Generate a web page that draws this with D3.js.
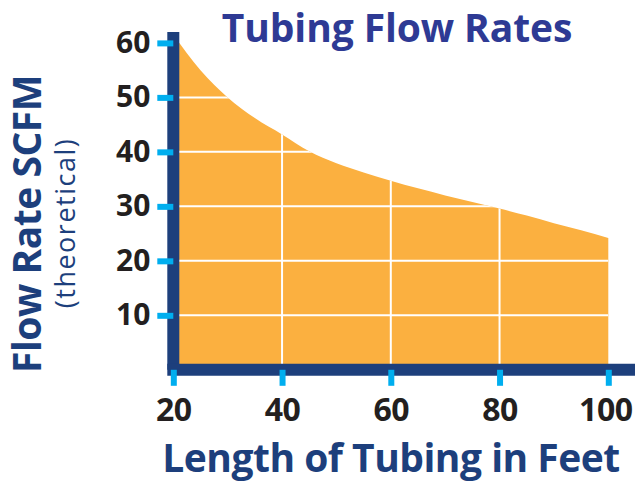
<!DOCTYPE html>
<html lang="en">
<head>
  <meta charset="UTF-8">
  <title>Tubing Flow Rates</title>
  <script src="https://d3js.org/d3.v7.min.js"></script>
  <style>
    body { margin: 0; background: #fff; }
    svg { display: block; font-family: "Open Sans", sans-serif; }
    .tick text { font-weight: 700; fill: #231F20; }
  </style>
</head>
<body>
<svg id="chart" width="635" height="485"></svg>
<script>
    // tubing length (ft) and theoretical flow (SCFM)
    const lengths = [20, 25, 30, 35, 40, 45, 50, 55, 60, 65, 70, 75, 80, 85, 90, 95, 100];
    const flows   = [61.5, 55, 50, 46.2, 43.2, 40.1, 37.9, 36.2, 34.7, 33.3, 32.0, 30.8, 29.6, 28.3, 26.9, 25.6, 24.2];
    const xTicks = [20, 40, 60, 80, 100];
    const yTicks = [10, 20, 30, 40, 50, 60];
    const gridX = [40, 60, 80];
    const gridY = [10, 20, 30, 40, 50];

    const NAVY = "#1D3F7C",
          CYAN = "#00AEEF",
          ORANGE = "#FBB040",
          TITLE_BLUE = "#2E3A94";

    const data = lengths.map((l, i) => ({ len: l, flow: flows[i] }));

    const svg = d3.select("#chart");
    const W = +svg.attr("width");

    const x = d3.scaleLinear().domain([20, 100]).range([173.3, 608.3]);
    const y = d3.scaleLinear().domain([0, 62]).range([369.8, 32]);

    // area + clip so the grid only shows inside it
    const area = d3.area()
        .x(d => x(d.len))
        .y0(y(0))
        .y1(d => y(d.flow))
        .curve(d3.curveMonotoneX);

    svg.append("clipPath").attr("id", "areaClip")
      .append("path").datum(data).attr("d", area);

    svg.append("path")
      .datum(data)
      .attr("fill", ORANGE)
      .attr("d", area);

    const grid = svg.append("g").attr("clip-path", "url(#areaClip)");
    grid.selectAll(".gx").data(gridX).join("line")
      .attr("x1", d => x(d)).attr("x2", d => x(d))
      .attr("y1", y(62)).attr("y2", y(0))
      .attr("stroke", "#fff").attr("stroke-width", 2);
    grid.selectAll(".gy").data(gridY).join("line")
      .attr("x1", x(20)).attr("x2", x(100))
      .attr("y1", d => y(d)).attr("y2", d => y(d))
      .attr("stroke", "#fff").attr("stroke-width", 2);

    // thick axis bars
    svg.append("line")
      .attr("x1", x(20)).attr("x2", x(20))
      .attr("y1", y(0)).attr("y2", y(62))
      .attr("stroke", NAVY).attr("stroke-width", 12);
    svg.append("line")
      .attr("x1", x(20)).attr("x2", W + 6)
      .attr("y1", y(0)).attr("y2", y(0))
      .attr("stroke", NAVY).attr("stroke-width", 12)
      .attr("stroke-linecap", "square");

    // axes (ticks + labels only, bars drawn above)
    const yAxis = svg.append("g")
      .attr("transform", `translate(${x(20)},0)`)
      .call(d3.axisLeft(y).tickValues(yTicks).tickSize(16).tickPadding(7));
    yAxis.select(".domain").remove();
    yAxis.selectAll(".tick line").attr("stroke", CYAN).attr("stroke-width", 6);
    yAxis.selectAll(".tick text").attr("font-size", 30).attr("font-family", "Open Sans");

    const xAxis = svg.append("g")
      .attr("transform", `translate(0,${y(0)})`)
      .call(d3.axisBottom(x).tickValues(xTicks).tickSize(16).tickPadding(12));
    xAxis.select(".domain").remove();
    xAxis.selectAll(".tick line").attr("stroke", CYAN).attr("stroke-width", 6);
    xAxis.selectAll(".tick text").attr("font-size", 32).attr("font-family", "Open Sans")
      .attr("letter-spacing", -0.5)
      .filter(d => d === 100).attr("dx", -3);

    // title
    svg.append("text")
      .attr("x", 397).attr("y", 42)
      .attr("text-anchor", "middle")
      .attr("font-size", 39)
      .attr("font-weight", 700)
      .attr("letter-spacing", -0.1)
      .attr("fill", TITLE_BLUE)
      .text("Tubing Flow Rates");

    // x title
    svg.append("text")
      .attr("x", 391).attr("y", 472)
      .attr("text-anchor", "middle")
      .attr("font-size", 39)
      .attr("font-weight", 700)
      .attr("letter-spacing", -0.5)
      .attr("fill", NAVY)
      .text("Length of Tubing in Feet");

    // y titles
    svg.append("text")
      .attr("transform", "translate(41,224) rotate(-90)")
      .attr("text-anchor", "middle")
      .attr("font-size", 39)
      .attr("font-weight", 700)
      .attr("letter-spacing", -0.5)
      .attr("fill", NAVY)
      .text("Flow Rate SCFM");
    svg.append("text")
      .attr("transform", "translate(75,223) rotate(-90)")
      .attr("text-anchor", "middle")
      .attr("font-size", 27)
      .attr("letter-spacing", 1.5)
      .attr("fill", NAVY)
      .text("(theoretical)");
</script>
</body>
</html>
